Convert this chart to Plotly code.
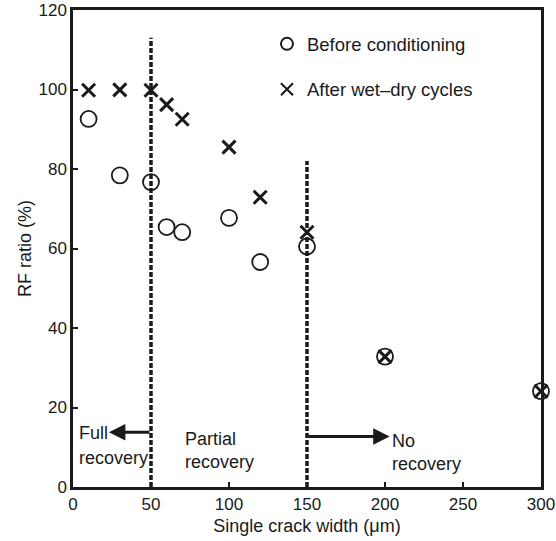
import plotly.graph_objects as go

# Crack width (µm) and RF ratio (%) for each specimen
crack_width = [10, 30, 50, 60, 70, 100, 120, 150, 200, 300]
rf_before = [92.6, 78.4, 76.7, 65.4, 64.1, 67.7, 56.6, 60.5, 32.8, 24.1]
rf_after = [99.8, 99.9, 99.8, 96.2, 92.5, 85.5, 72.9, 64.1, 32.8, 24.1]

# Recovery-zone boundaries (crack width) and the height of each dashed line
zone_bounds = [50, 150]
zone_tops = [113, 82]

# Axis ticks
x_ticks = [0, 50, 100, 150, 200, 250, 300]
y_ticks = [0, 20, 40, 60, 80, 100, 120]

FONT = "Liberation Sans, Arial, sans-serif"
INK = "#1a1a1a"

fig = go.Figure()

fig.add_trace(go.Scatter(
    x=crack_width, y=rf_before, mode="markers", name="Before conditioning",
    marker=dict(symbol="circle-open", size=16, color=INK, line=dict(width=1.8, color=INK)),
    cliponaxis=False, legend="legend",
))
fig.add_trace(go.Scatter(
    x=crack_width, y=rf_after, mode="markers", name="After wet\u2013dry cycles",
    marker=dict(symbol="x-thin-open", size=13, color=INK, line=dict(width=3, color=INK)),
    cliponaxis=False, legend="legend2",
))

# Dashed boundaries between recovery zones
for xb, top in zip(zone_bounds, zone_tops):
    fig.add_shape(type="line", xref="x", yref="y", x0=xb, x1=xb, y0=0, y1=top,
                  line=dict(color=INK, width=3.5, dash="5px,2px"))

annotations = []
# Arrows marking the full / no recovery directions
annotations.append(dict(x=23, y=13.8, ax=zone_bounds[0], ay=13.8, xref="x", yref="y",
                        axref="x", ayref="y", showarrow=True, arrowhead=2,
                        arrowsize=1.1, arrowwidth=3, arrowcolor=INK, text=""))
annotations.append(dict(x=203, y=12.7, ax=zone_bounds[1], ay=12.7, xref="x", yref="y",
                        axref="x", ayref="y", showarrow=True, arrowhead=2,
                        arrowsize=1.1, arrowwidth=3, arrowcolor=INK, text=""))

zone_labels = [
    ("Full", 2.4, 13.6),
    ("recovery", 2.4, 7.3),
    ("Partial", 70.5, 12.0),
    ("recovery", 70.5, 6.3),
    ("No", 203, 11.6),
    ("recovery", 203, 5.8),
]
for txt, xx, yy in zone_labels:
    annotations.append(dict(x=xx, y=yy, xref="x", yref="y", text=txt, showarrow=False,
                            xanchor="left", yanchor="middle",
                            font=dict(family=FONT, size=18, color=INK)))

fig.update_layout(
    width=556, height=541,
    margin=dict(l=73, r=15, t=10, b=54, autoexpand=False),
    paper_bgcolor="white", plot_bgcolor="white",
    font=dict(family=FONT, size=17, color=INK),
    annotations=annotations,
    legend=dict(x=0.4145, y=0.928, xanchor="left", yanchor="middle",
                bgcolor="rgba(0,0,0,0)", itemsizing="constant",
                font=dict(family=FONT, size=18.5, color=INK)),
    legend2=dict(x=0.4145, y=0.833, xanchor="left", yanchor="middle",
                 bgcolor="rgba(0,0,0,0)", itemsizing="constant",
                 font=dict(family=FONT, size=18.5, color=INK)),
    showlegend=True,
)

fig.update_xaxes(
    range=[0, 300], tickvals=x_ticks, ticktext=[str(v) for v in x_ticks],
    showgrid=False, zeroline=False, automargin=False,
    showline=True, mirror=True, linecolor=INK, linewidth=2.5,
    ticks="inside", ticklen=5, tickwidth=2, tickcolor=INK,
    tickfont=dict(family=FONT, size=17, color=INK),
    title=dict(text="Single crack width (\u03bcm)", standoff=7,
               font=dict(family=FONT, size=18, color=INK)),
)
fig.update_yaxes(
    range=[0, 120], tickvals=y_ticks, ticktext=[str(v) for v in y_ticks],
    showgrid=False, zeroline=False, automargin=False,
    showline=True, mirror=True, linecolor=INK, linewidth=2.5,
    ticks="inside", ticklen=5, tickwidth=2, tickcolor=INK,
    tickfont=dict(family=FONT, size=17, color=INK),
    title=dict(text="RF ratio (%)", standoff=3,
               font=dict(family=FONT, size=18, color=INK)),
)

fig.write_html("out.html")
